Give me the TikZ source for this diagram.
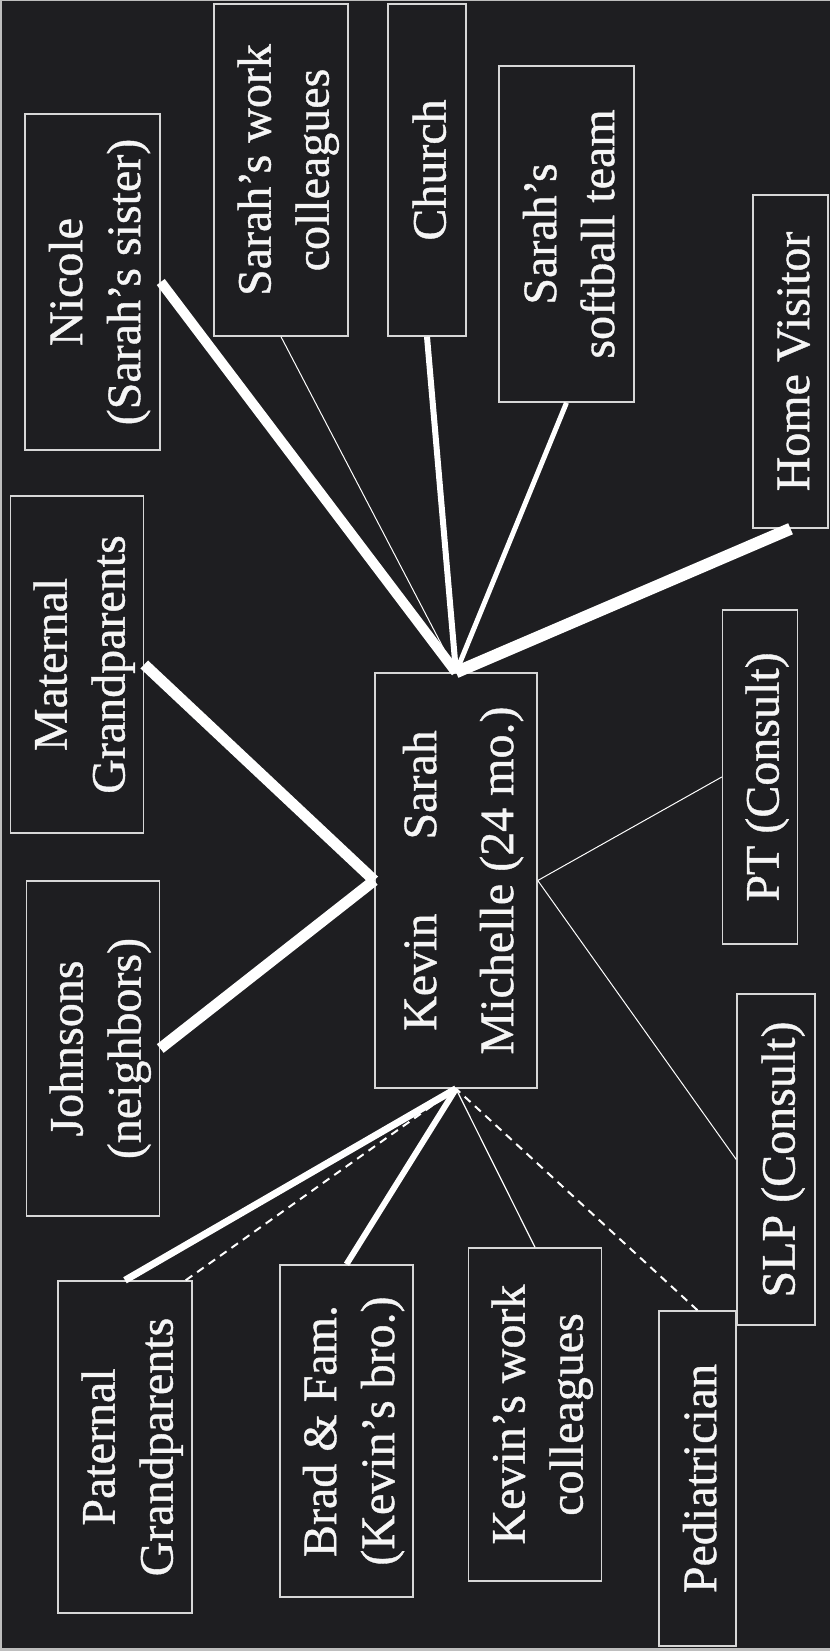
\documentclass[tikz,border=0pt]{standalone}
\usepackage{fontspec}
\setmainfont{Liberation Serif}[FakeBold=0.8,AutoFakeBold=0.8]
\usetikzlibrary{calc}
\definecolor{bg}{RGB}{30,30,33}
\definecolor{edgegray}{RGB}{190,190,190}
\definecolor{boxline}{RGB}{215,215,215}
\definecolor{textcol}{RGB}{245,245,245}
\newcommand\tx[1]{\raisebox{-7pt}[\height][\depth]{\begin{tabular}{@{}c@{}}#1\end{tabular}}}
\tikzset{
  box/.style={rectangle, draw=boxline, line width=1.5pt, rotate=90, text=textcol,
    inner sep=0pt, font=\fontsize{48}{58}\selectfont\bfseries},
  conn/.style={draw=white},
  dashconn/.style={draw=white, line width=2pt, dash pattern=on 8pt off 6pt}
}
\begin{document}
\begin{tikzpicture}[x=1pt,y=-1pt]
\useasboundingbox (0,0) rectangle (830,1651);
\fill[edgegray] (0,0) rectangle (830,1651);
\fill[bg] (2,1) rectangle (830,1648);

\node[box, minimum width=336pt, minimum height=135pt] (nicole) at (92.5,282) {\tx{Nicole\\(Sarah’s sister)}};
\node[box, minimum width=332pt, minimum height=134pt] (sarahwork) at (281,170) {\tx{Sarah’s work\\colleagues}};
\node[box, minimum width=332pt, minimum height=78pt] (church) at (427,170) {\tx{Church}};
\node[box, minimum width=336pt, minimum height=135pt] (softball) at (566.5,234) {\tx{Sarah’s\\softball team}};
\node[box, minimum width=333pt, minimum height=75pt] (homevisitor) at (790.5,361.5) {\tx{Home Visitor}};
\node[box, minimum width=337pt, minimum height=133pt] (maternal) at (77,664.5) {\tx{Maternal\\Grandparents}};
\node[box, minimum width=335pt, minimum height=133pt] (johnsons) at (93,1048.5) {\tx{Johnsons\\(neighbors)}};
\node[box, minimum width=415pt, minimum height=162pt] (central) at (456,880.5) {\tx{Kevin\hspace{74pt}Sarah\\[19pt]Michelle (24 mo.)}};
\node[box, minimum width=334pt, minimum height=75pt] (pt) at (760,777) {\tx{PT (Consult)}};
\node[box, minimum width=331pt, minimum height=78pt] (slp) at (776,1159.5) {\tx{SLP (Consult)}};
\node[box, minimum width=332pt, minimum height=134pt] (paternal) at (125,1447) {\tx{Paternal\\Grandparents}};
\node[box, minimum width=332pt, minimum height=133pt] (brad) at (346.5,1431) {\tx{Brad \& Fam.\\(Kevin’s bro.)}};
\node[box, minimum width=333pt, minimum height=133pt] (kevinwork) at (535,1414.5) {\tx{Kevin’s work\\colleagues}};
\node[box, minimum width=335pt, minimum height=77pt] (ped) at (697.5,1478.5) {\tx{Pediatrician}};

% top fan
\draw[conn, line width=10pt] (nicole.south) -- (central.east);
\draw[conn, line width=1pt] (sarahwork.west) -- (central.east);
\draw[conn, line width=6pt] (church.west) -- (central.east);
\draw[conn, line width=5pt] (softball.west) -- (central.east);
\draw[conn, line width=12pt] (homevisitor.west) -- (central.east);
% left V
\draw[conn, line width=11pt] (maternal.south) -- (central.north);
\draw[conn, line width=11pt] (johnsons.south) -- (central.north);
% right
\draw[conn, line width=1pt] (central.south) -- (pt.north);
\draw[conn, line width=1pt] (central.south) -- (slp.north);
% bottom fan
\draw[conn, line width=7pt] (paternal.east) -- (central.west);
\draw[dashconn] ($(paternal.south east)+(-7,0)$) -- (central.west);
\draw[conn, line width=6pt] (brad.east) -- (central.west);
\draw[conn, line width=1.2pt] (kevinwork.east) -- (central.west);
\draw[dashconn] (ped.east) -- (central.west);
\end{tikzpicture}
\end{document}
